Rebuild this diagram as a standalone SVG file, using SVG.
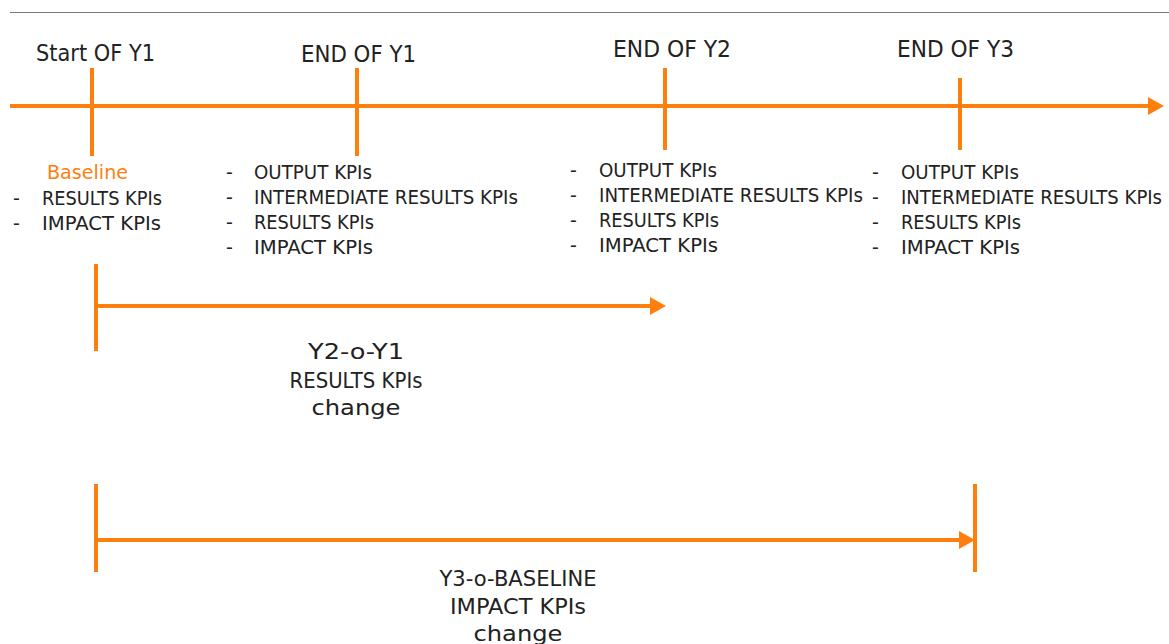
<svg xmlns="http://www.w3.org/2000/svg" width="1169" height="644" viewBox="0 0 1169 644">
  <defs>
    <style>
      .lbl { font-family: "DejaVu Sans", "Liberation Sans", sans-serif; fill: #222222; }
      .top { font-size: 23px; }
      .lst { font-size: 19px; }
      .big { font-size: 22px; }
      .hl { fill: #FF7F0E; }
      .ln { stroke: #FF7F0E; stroke-width: 4; fill: none; }
    </style>
    <marker id="head" viewBox="0 0 16 18" refX="0" refY="9" markerWidth="16" markerHeight="18" markerUnits="userSpaceOnUse" orient="auto">
      <path d="M0,0 L16,9 L0,18 Z" fill="#FF7F0E"/>
    </marker>
  </defs>
  <rect width="1169" height="644" fill="#ffffff"/>
  <line x1="10" y1="12.5" x2="1169" y2="12.5" stroke="#777777" stroke-width="1"/>

  <g id="connectors">
    <!-- main timeline -->
    <line class="ln" x1="10" y1="106" x2="1148" y2="106" marker-end="url(#head)"/>
    <!-- year ticks -->
    <line class="ln" x1="92" y1="68" x2="92" y2="156"/>
    <line class="ln" x1="357" y1="68" x2="357" y2="156"/>
    <line class="ln" x1="665" y1="68" x2="665" y2="150"/>
    <line class="ln" x1="960" y1="78" x2="960" y2="150"/>
    <!-- Y2-o-Y1 span -->
    <line class="ln" x1="96" y1="264" x2="96" y2="351"/>
    <line class="ln" x1="96" y1="306" x2="650" y2="306" marker-end="url(#head)"/>
    <!-- Y3-o-baseline span -->
    <line class="ln" x1="96" y1="484" x2="96" y2="572"/>
    <line class="ln" x1="975" y1="484" x2="975" y2="572"/>
    <line class="ln" x1="96" y1="540" x2="959" y2="540" marker-end="url(#head)"/>
  </g>

  <g id="start-y1">
    <text class="lbl top" x="36" y="61" textLength="119" lengthAdjust="spacingAndGlyphs">Start OF Y1</text>
    <text class="lbl lst hl" x="47" y="179" textLength="81" lengthAdjust="spacingAndGlyphs">Baseline</text>
    <text class="lbl lst" x="13" y="205">-</text>
    <text class="lbl lst" x="42" y="205" textLength="120" lengthAdjust="spacingAndGlyphs">RESULTS KPIs</text>
    <text class="lbl lst" x="13" y="230">-</text>
    <text class="lbl lst" x="42" y="230" textLength="119" lengthAdjust="spacingAndGlyphs">IMPACT KPIs</text>
  </g>

  <g id="end-y1">
    <text class="lbl top" x="301" y="62" textLength="115" lengthAdjust="spacingAndGlyphs">END OF Y1</text>
    <text class="lbl lst" x="226" y="179">-</text>
    <text class="lbl lst" x="254" y="179" textLength="118" lengthAdjust="spacingAndGlyphs">OUTPUT KPIs</text>
    <text class="lbl lst" x="226" y="204">-</text>
    <text class="lbl lst" x="254" y="204" textLength="264" lengthAdjust="spacingAndGlyphs">INTERMEDIATE RESULTS KPIs</text>
    <text class="lbl lst" x="226" y="229">-</text>
    <text class="lbl lst" x="254" y="229" textLength="120" lengthAdjust="spacingAndGlyphs">RESULTS KPIs</text>
    <text class="lbl lst" x="226" y="254">-</text>
    <text class="lbl lst" x="254" y="254" textLength="119" lengthAdjust="spacingAndGlyphs">IMPACT KPIs</text>
  </g>

  <g id="end-y2">
    <text class="lbl top" x="613" y="57" textLength="118" lengthAdjust="spacingAndGlyphs">END OF Y2</text>
    <text class="lbl lst" x="570" y="177">-</text>
    <text class="lbl lst" x="599" y="177" textLength="118" lengthAdjust="spacingAndGlyphs">OUTPUT KPIs</text>
    <text class="lbl lst" x="570" y="202">-</text>
    <text class="lbl lst" x="599" y="202" textLength="264" lengthAdjust="spacingAndGlyphs">INTERMEDIATE RESULTS KPIs</text>
    <text class="lbl lst" x="570" y="227">-</text>
    <text class="lbl lst" x="599" y="227" textLength="120" lengthAdjust="spacingAndGlyphs">RESULTS KPIs</text>
    <text class="lbl lst" x="570" y="252">-</text>
    <text class="lbl lst" x="599" y="252" textLength="119" lengthAdjust="spacingAndGlyphs">IMPACT KPIs</text>
  </g>

  <g id="end-y3">
    <text class="lbl top" x="897" y="57" textLength="117" lengthAdjust="spacingAndGlyphs">END OF Y3</text>
    <text class="lbl lst" x="872" y="179">-</text>
    <text class="lbl lst" x="901" y="179" textLength="118" lengthAdjust="spacingAndGlyphs">OUTPUT KPIs</text>
    <text class="lbl lst" x="872" y="204">-</text>
    <text class="lbl lst" x="901" y="204" textLength="261" lengthAdjust="spacingAndGlyphs">INTERMEDIATE RESULTS KPIs</text>
    <text class="lbl lst" x="872" y="229">-</text>
    <text class="lbl lst" x="901" y="229" textLength="120" lengthAdjust="spacingAndGlyphs">RESULTS KPIs</text>
    <text class="lbl lst" x="872" y="254">-</text>
    <text class="lbl lst" x="901" y="254" textLength="119" lengthAdjust="spacingAndGlyphs">IMPACT KPIs</text>
  </g>

  <g id="y2-o-y1" text-anchor="middle">
    <text class="lbl big" x="356" y="359" textLength="96" lengthAdjust="spacingAndGlyphs">Y2-o-Y1</text>
    <text class="lbl big" x="356" y="388" textLength="133" lengthAdjust="spacingAndGlyphs">RESULTS KPIs</text>
    <text class="lbl big" x="356" y="415" textLength="89" lengthAdjust="spacingAndGlyphs">change</text>
  </g>

  <g id="y3-o-baseline" text-anchor="middle">
    <text class="lbl big" x="518" y="586" textLength="157" lengthAdjust="spacingAndGlyphs">Y3-o-BASELINE</text>
    <text class="lbl big" x="518" y="614" textLength="136" lengthAdjust="spacingAndGlyphs">IMPACT KPIs</text>
    <text class="lbl big" x="518" y="641" textLength="89" lengthAdjust="spacingAndGlyphs">change</text>
  </g>
</svg>
